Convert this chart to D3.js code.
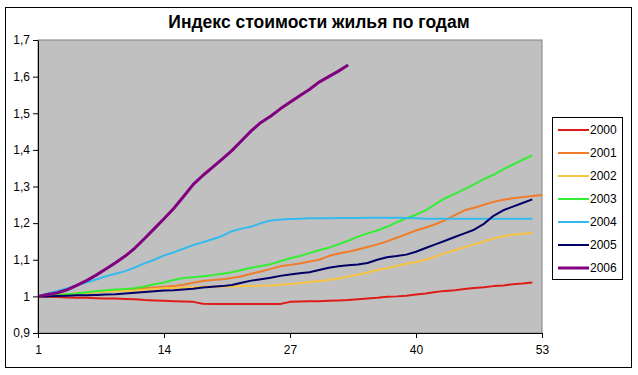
<!DOCTYPE html>
<html><head><meta charset="utf-8">
<script src="https://cdn.jsdelivr.net/npm/d3@7"></script>
<style>body{margin:0;background:#fff;}svg{display:block;}text{font-family:"Liberation Sans",Arial,sans-serif;}</style>
</head><body>
<script>
const title = "Индекс стоимости жилья по годам";
const seriesNames = ["2000","2001","2002","2003","2004","2005","2006"];
const seriesColors = ["#dd1c1a","#f07c2a","#f6c343","#33ee33","#33bbee","#000066","#800080"];
const yTicks = [0.9,1.0,1.1,1.2,1.3,1.4,1.5,1.6,1.7];
const xTicks = [1,14,27,40,53];

const s2000 = [1.000,0.999,0.998,0.997,0.996,0.996,0.995,0.994,0.994,0.993,0.992,0.990,0.989,0.988,0.987,0.986,0.985,0.980,0.979,0.979,0.979,0.979,0.979,0.979,0.979,0.979,0.985,0.986,0.987,0.987,0.988,0.989,0.990,0.992,0.994,0.996,0.999,1.000,1.002,1.005,1.008,1.012,1.015,1.017,1.020,1.023,1.025,1.028,1.030,1.033,1.035,1.038];
const s2001 = [1.000,1.002,1.004,1.006,1.008,1.010,1.012,1.014,1.016,1.018,1.020,1.022,1.024,1.026,1.028,1.032,1.037,1.042,1.045,1.047,1.050,1.055,1.062,1.068,1.075,1.082,1.086,1.090,1.095,1.100,1.110,1.117,1.122,1.128,1.135,1.142,1.150,1.160,1.170,1.180,1.188,1.197,1.208,1.222,1.235,1.242,1.250,1.258,1.264,1.268,1.271,1.274,1.277];
const s2002 = [1.000,1.002,1.004,1.006,1.008,1.010,1.012,1.013,1.014,1.015,1.016,1.018,1.020,1.022,1.023,1.024,1.025,1.026,1.026,1.027,1.027,1.028,1.028,1.029,1.030,1.032,1.034,1.036,1.039,1.042,1.045,1.049,1.054,1.059,1.065,1.072,1.077,1.083,1.089,1.094,1.100,1.109,1.118,1.126,1.134,1.142,1.150,1.158,1.164,1.168,1.171,1.173];
const s2003 = [1.000,1.002,1.004,1.006,1.008,1.011,1.014,1.017,1.019,1.020,1.022,1.027,1.033,1.038,1.045,1.050,1.052,1.055,1.058,1.062,1.066,1.072,1.078,1.083,1.088,1.096,1.104,1.110,1.118,1.126,1.133,1.142,1.152,1.163,1.172,1.180,1.190,1.202,1.213,1.223,1.235,1.252,1.268,1.280,1.293,1.306,1.320,1.332,1.347,1.360,1.373,1.385];
const s2004 = [1.000,1.008,1.015,1.022,1.030,1.038,1.046,1.055,1.062,1.069,1.079,1.090,1.100,1.112,1.120,1.130,1.140,1.148,1.156,1.165,1.178,1.185,1.190,1.200,1.207,1.210,1.211,1.212,1.213,1.213,1.213,1.214,1.214,1.214,1.215,1.215,1.215,1.215,1.214,1.213,1.212,1.212,1.212,1.212,1.212,1.212,1.212,1.212,1.212,1.212,1.212,1.212];
const s2005 = [1.000,1.000,1.001,1.002,1.003,1.003,1.004,1.005,1.006,1.008,1.010,1.012,1.014,1.016,1.017,1.019,1.021,1.024,1.026,1.028,1.031,1.037,1.043,1.047,1.051,1.056,1.060,1.063,1.066,1.072,1.078,1.082,1.085,1.087,1.091,1.100,1.107,1.110,1.114,1.122,1.132,1.142,1.152,1.162,1.172,1.182,1.198,1.220,1.235,1.245,1.255,1.265];
const s2006 = [1.000,1.005,1.010,1.018,1.030,1.043,1.058,1.075,1.092,1.110,1.132,1.158,1.185,1.212,1.240,1.272,1.305,1.330,1.352,1.375,1.398,1.425,1.452,1.475,1.492,1.512,1.530,1.548,1.565,1.585,1.600,1.615,1.632];
const allSeries = [s2000,s2001,s2002,s2003,s2004,s2005,s2006];
const widths = [2,2,2,2,2,2,3];

const W = 638, H = 375;
const svg = d3.select("body").append("svg").attr("width",W).attr("height",H);
svg.append("rect").attr("x",0).attr("y",0).attr("width",W).attr("height",H).attr("fill","#fff");
svg.append("rect").attr("x",5.5).attr("y",7.5).attr("width",626).attr("height",360)
  .attr("fill","#fff").attr("stroke","#000").attr("stroke-width",1);

const x = d3.scaleLinear().domain([1,53]).range([38,542]);
const y = d3.scaleLinear().domain([0.9,1.7]).range([333,40]);

svg.append("text").attr("x",319).attr("y",28).attr("text-anchor","middle")
  .attr("font-size",17.5).attr("font-weight","bold").text(title);

// plot area
svg.append("rect").attr("x",x(1)).attr("y",y(1.7)).attr("width",x(53)-x(1)).attr("height",y(0.9)-y(1.7))
  .attr("fill","#c0c0c0").attr("stroke","#808080").attr("stroke-width",1);

const line = d3.line().x((d,i)=>x(i+1)).y(d=>y(d));
allSeries.forEach((s,k)=>{
  svg.append("path").datum(s).attr("d",line).attr("fill","none")
    .attr("stroke",seriesColors[k]).attr("stroke-width",widths[k]).attr("stroke-linejoin","round");
});

const fmt = d => (Math.abs(d-1)<1e-9 ? "1" : d.toFixed(1).replace(".",","));
const ya = svg.append("g").attr("transform",`translate(${x(1)},0)`)
  .call(d3.axisLeft(y).tickValues(yTicks).tickFormat(fmt).tickSize(5).tickSizeOuter(0));
const xa = svg.append("g").attr("transform",`translate(0,${y(0.9)})`)
  .call(d3.axisBottom(x).tickValues(xTicks).tickSize(5).tickSizeOuter(0));
[ya,xa].forEach(g=>{
  g.select(".domain").attr("stroke","#000");
  g.selectAll(".tick line").attr("stroke","#000");
  g.selectAll("text").attr("font-size",12).attr("fill","#000").attr("font-family","Liberation Sans, Arial, sans-serif");
});
ya.selectAll("text").attr("x",-8);
xa.selectAll("text").attr("y",12);

// legend
const lg = svg.append("g");
lg.append("rect").attr("x",552.5).attr("y",117.5).attr("width",70).attr("height",162)
  .attr("fill","#fff").attr("stroke","#000");
seriesNames.forEach((n,k)=>{
  const yy = 130 + k*23;
  lg.append("line").attr("x1",558).attr("x2",589).attr("y1",yy).attr("y2",yy)
    .attr("stroke",seriesColors[k]).attr("stroke-width",widths[k]);
  lg.append("text").attr("x",590).attr("y",yy+4).attr("font-size",12).text(n);
});
</script>
</body></html>
